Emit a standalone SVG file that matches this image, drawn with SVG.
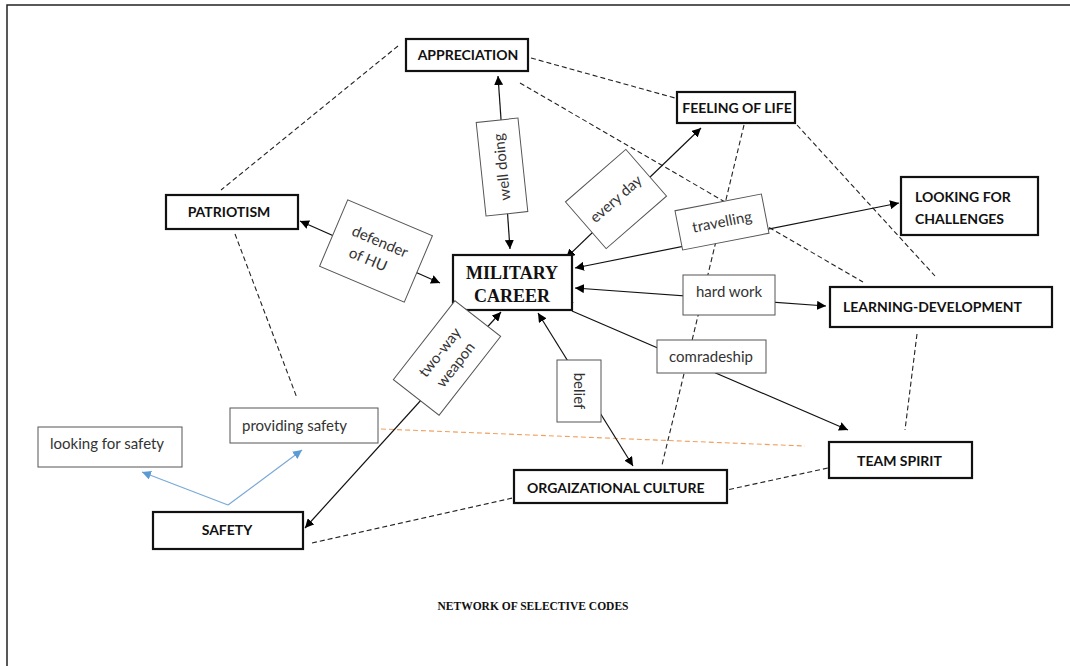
<svg xmlns="http://www.w3.org/2000/svg" width="1070" height="666" viewBox="0 0 1070 666">
  <defs>
    <marker id="ah" viewBox="0 0 10 10" refX="10" refY="5" markerWidth="9" markerHeight="9" markerUnits="userSpaceOnUse" orient="auto-start-reverse">
      <path d="M0,0 L10,5 L0,10 Z" fill="#000"/>
    </marker>
    <marker id="ahb" viewBox="0 0 10 10" refX="10" refY="5" markerWidth="9" markerHeight="9" markerUnits="userSpaceOnUse" orient="auto-start-reverse">
      <path d="M0,0 L10,5 L0,10 Z" fill="#5b9bd5"/>
    </marker>
    <style>
      .node rect { fill: #fff; stroke: #111; stroke-width: 2.2; }
      .lbl rect { fill: #fff; stroke: #555; stroke-width: 1; }
      .nt { font-family: Lato, "Liberation Sans", sans-serif; font-weight: bold; font-size: 14px; fill: #111; }
      .lt { font-family: Lato, "Liberation Sans", sans-serif; font-size: 15px; fill: #333; }
      .serif { font-family: "Liberation Serif", "Times New Roman", serif; font-weight: bold; fill: #111; }
      .solid { fill: none; stroke: #111; stroke-width: 1.2; }
      .dash { fill: none; stroke: #222; stroke-width: 1.1; stroke-dasharray: 5 3; }
      .orange { fill: none; stroke: #f0a060; stroke-width: 1.1; stroke-dasharray: 5 3; }
      .blue { fill: none; stroke: #7aa9d8; stroke-width: 1.2; }
    </style>
  </defs>

  <!-- page frame (top and left edges) -->
  <path d="M7,666 L7,5 L1070,5" fill="none" stroke="#222" stroke-width="1.5"/>

  <g id="connectors">
    <!-- dashed relations between codes -->
    <line class="dash" x1="398" y1="46" x2="221" y2="190"/>
    <line class="dash" x1="531" y1="58" x2="675" y2="98"/>
    <line class="dash" x1="520" y1="83" x2="863" y2="282"/>
    <line class="dash" x1="744" y1="125" x2="662" y2="465"/>
    <line class="dash" x1="797" y1="125" x2="935" y2="276"/>
    <line class="dash" x1="235" y1="234" x2="297" y2="398"/>
    <line class="dash" x1="312" y1="543" x2="517" y2="497"/>
    <line class="dash" x1="690" y1="498" x2="828" y2="468"/>
    <line class="dash" x1="917" y1="334" x2="905" y2="430"/>
    <line class="orange" x1="381" y1="429" x2="805" y2="446"/>

    <!-- labelled arrows around the central code -->
    <line class="solid" x1="498" y1="76" x2="510" y2="249" marker-start="url(#ah)" marker-end="url(#ah)"/>
    <line class="solid" x1="566" y1="258" x2="701" y2="128" marker-start="url(#ah)" marker-end="url(#ah)"/>
    <line class="solid" x1="300" y1="221" x2="440" y2="283" marker-start="url(#ah)" marker-end="url(#ah)"/>
    <line class="solid" x1="575" y1="268" x2="899" y2="203" marker-start="url(#ah)" marker-end="url(#ah)"/>
    <line class="solid" x1="575" y1="288" x2="826" y2="306" marker-start="url(#ah)" marker-end="url(#ah)"/>
    <line class="solid" x1="572" y1="311" x2="848" y2="430" marker-end="url(#ah)"/>
    <line class="solid" x1="569" y1="298" x2="569" y2="311" marker-end="url(#ah)"/>
    <line class="solid" x1="538" y1="313" x2="633" y2="466" marker-start="url(#ah)" marker-end="url(#ah)"/>
    <line class="solid" x1="501" y1="312" x2="305" y2="528" marker-start="url(#ah)" marker-end="url(#ah)"/>

    <!-- safety sub-codes -->
    <line class="blue" x1="228" y1="505" x2="142" y2="472" marker-end="url(#ahb)"/>
    <line class="blue" x1="228" y1="505" x2="302" y2="450" marker-end="url(#ahb)"/>
  </g>

  <!-- selective codes -->
  <g id="appreciation" class="node">
    <rect x="406" y="39" width="122" height="32"/>
    <text class="nt" x="468" y="60" text-anchor="middle">APPRECIATION</text>
  </g>
  <g id="feeling-of-life" class="node">
    <rect x="677" y="92" width="118" height="31"/>
    <text class="nt" x="737" y="113" text-anchor="middle">FEELING OF LIFE</text>
  </g>
  <g id="looking-for-challenges" class="node">
    <rect x="901" y="177" width="137" height="58"/>
    <text class="nt" x="915" y="202">LOOKING FOR</text>
    <text class="nt" x="915" y="224">CHALLENGES</text>
  </g>
  <g id="patriotism" class="node">
    <rect x="166" y="195" width="132" height="34"/>
    <text class="nt" x="229" y="217" text-anchor="middle">PATRIOTISM</text>
  </g>
  <g id="military-career" class="node">
    <rect x="453" y="255" width="119" height="55"/>
    <text class="serif" x="512" y="279" font-size="18" text-anchor="middle">MILITARY</text>
    <text class="serif" x="512" y="302" font-size="18" text-anchor="middle">CAREER</text>
  </g>
  <g id="learning-development" class="node">
    <rect x="830" y="287" width="222" height="40"/>
    <text class="nt" x="843" y="312">LEARNING-DEVELOPMENT</text>
  </g>
  <g id="team-spirit" class="node">
    <rect x="829" y="442" width="143" height="36"/>
    <text class="nt" x="857" y="466">TEAM SPIRIT</text>
  </g>
  <g id="organizational-culture" class="node">
    <rect x="514" y="470" width="213" height="33"/>
    <text class="nt" x="527" y="493">ORGAIZATIONAL CULTURE</text>
  </g>
  <g id="safety" class="node">
    <rect x="153" y="512" width="150" height="37"/>
    <text class="nt" x="227" y="535" text-anchor="middle">SAFETY</text>
  </g>

  <!-- connector labels -->
  <g id="lbl-well-doing" class="lbl" transform="translate(502,167) rotate(-96)">
    <rect x="-47" y="-21" width="94" height="42"/>
    <text class="lt" x="0" y="5" text-anchor="middle">well doing</text>
  </g>
  <g id="lbl-every-day" class="lbl" transform="translate(616,199) rotate(-41)">
    <rect x="-40" y="-31" width="80" height="62"/>
    <text class="lt" x="0" y="5" text-anchor="middle">every day</text>
  </g>
  <g id="lbl-defender" class="lbl" transform="translate(376,251) rotate(23)">
    <rect x="-46" y="-36" width="92" height="72"/>
    <text class="lt" x="0" y="-5" text-anchor="middle">defender</text>
    <text class="lt" x="-4" y="16" text-anchor="middle">of HU</text>
  </g>
  <g id="lbl-travelling" class="lbl" transform="translate(722,222) rotate(-11)">
    <rect x="-44" y="-20" width="88" height="40"/>
    <text class="lt" x="0" y="5" text-anchor="middle">travelling</text>
  </g>
  <g id="lbl-hard-work" class="lbl">
    <rect x="683" y="275" width="92" height="40"/>
    <text class="lt" x="729" y="297" text-anchor="middle">hard work</text>
  </g>
  <g id="lbl-comradeship" class="lbl">
    <rect x="657" y="340" width="109" height="33"/>
    <text class="lt" x="711" y="362" text-anchor="middle">comradeship</text>
  </g>
  <g id="lbl-belief" class="lbl">
    <rect x="557" y="360" width="44" height="62"/>
    <text class="lt" transform="translate(579,391) rotate(90)" x="0" y="5" text-anchor="middle">belief</text>
  </g>
  <g id="lbl-two-way-weapon" class="lbl" transform="translate(447,358) rotate(-52)">
    <rect x="-50" y="-29" width="100" height="58"/>
    <text class="lt" x="0" y="-4" text-anchor="middle">two-way</text>
    <text class="lt" x="0" y="16" text-anchor="middle">weapon</text>
  </g>
  <g id="lbl-providing-safety" class="lbl">
    <rect x="230" y="408" width="148" height="35"/>
    <text class="lt" x="242" y="431">providing safety</text>
  </g>
  <g id="lbl-looking-for-safety" class="lbl">
    <rect x="38" y="427" width="144" height="40"/>
    <text class="lt" x="50" y="449">looking for safety</text>
  </g>

  <text class="serif" x="533" y="610" font-size="11.5" text-anchor="middle">NETWORK OF SELECTIVE CODES</text>
</svg>
